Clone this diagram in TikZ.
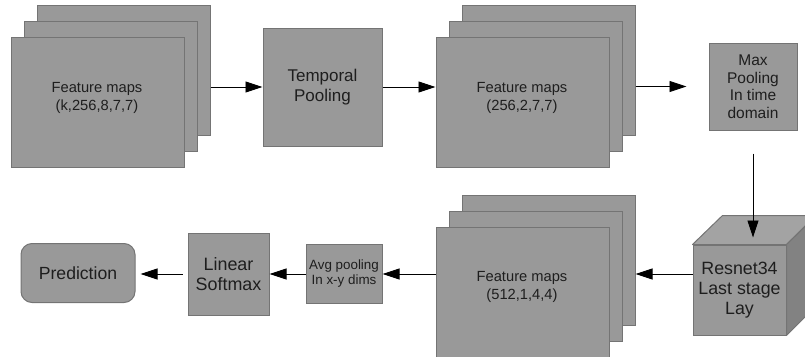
\documentclass[tikz,border=0pt]{standalone}
\usepackage{fontspec}
\setmainfont{Liberation Sans}
\usetikzlibrary{arrows.meta}
\definecolor{boxfill}{HTML}{999999}
\definecolor{boxedge}{HTML}{747474}
\definecolor{cubetop}{HTML}{A3A3A3}
\definecolor{cubeside}{HTML}{828282}
\definecolor{ink}{HTML}{1E1E1E}
\tikzset{
  block/.style={draw=boxedge, fill=boxfill, line width=1pt, inner sep=0pt,
    align=center, text=ink},
  layer/.style={block, minimum width=173pt, minimum height=130pt},
  flow/.style={line width=0.9pt, -{Triangle[length=17pt,width=11pt]}},
  fmfont/.style={font=\fontsize{14.7}{18}\selectfont},
  bigfont/.style={font=\fontsize{17.6}{20}\selectfont},
}
\begin{document}
\begin{tikzpicture}[x=1pt,y=-1pt]
\useasboundingbox (0,0) rectangle (805,356);

% first stack of feature maps
\node[layer] (s1b) at (123.5,70.5) {};
\node[layer] (s1m) at (110.5,86.5) {};
\node[layer] (s1f) at (97.5,102.5) {};
\node[fmfont, text=ink, align=center] (s1t) at (97,98) {Feature maps\\(k,256,8,7,7)};

% temporal pooling
\node[block, minimum width=119pt, minimum height=118pt,
  font=\fontsize{17}{20}\selectfont] (tp) at (322.5,87) {Temporal\\Pooling};

% second stack of feature maps
\node[layer] (s2b) at (548.5,70.5) {};
\node[layer] (s2m) at (535.5,86.5) {};
\node[layer] (s2f) at (522.5,102.5) {};
\node[fmfont, text=ink, align=center] (s2t) at (522,98) {Feature maps\\(256,2,7,7)};

% max pooling in time
\node[block, minimum width=88pt, minimum height=87pt,
  font=\fontsize{15.5}{17.5}\selectfont] (mp) at (753,86.5) {Max\\Pooling\\In time\\domain};

% ResNet34 cube
\node[block, minimum width=93pt, minimum height=90pt] (cube) at (739.5,290) {};
\filldraw[draw=boxedge, fill=cubetop, line width=1pt, line join=round]
  (cube.north west) -- ++(30,-29) -- ++(93,0) -- (cube.north east) -- cycle;
\filldraw[draw=boxedge, fill=cubeside, line width=1pt, line join=round]
  (cube.north east) -- ++(30,-29) -- ++(0,90) -- (cube.south east) -- cycle;
\node[text=ink, align=center, font=\fontsize{17.8}{20}\selectfont]
  (cubet) at (cube.center) {Resnet34\\Last stage\\Lay};

% third stack of feature maps
\node[layer] (s3b) at (548.5,260) {};
\node[layer] (s3m) at (535.5,276) {};
\node[layer] (s3f) at (522.5,292) {};
\node[fmfont, text=ink, align=center] (s3t) at (522,287) {Feature maps\\(512,1,4,4)};

% average pooling, classifier and output
\node[block, minimum width=76pt, minimum height=59pt,
  font=\fontsize{13.4}{15}\selectfont] (avg) at (344,274) {Avg pooling\\In x-y dims};
\node[block, minimum width=81pt, minimum height=82pt,
  font=\fontsize{17.9}{20}\selectfont] (lin) at (228.5,274) {Linear\\Softmax};
\node[block, bigfont, rounded corners=11pt, minimum width=114pt,
  minimum height=59pt] (pred) at (78,273) {Prediction};

% connectors
\draw[flow] (s1b.east |- tp.west) -- (tp.west);
\draw[flow] (tp.east) -- (tp.east -| s2f.west);
\draw[flow, shorten >=22pt] (s2b.east |- mp.west) -- (mp.west);
\draw[flow, shorten <=23pt, shorten >=7pt] (mp.south) -- (mp.south |- cube.north);
\draw[flow] (cube.west |- avg.east) -- (avg.east -| s3b.east);
\draw[flow] (s3f.west |- avg.east) -- (avg.east);
\draw[flow] (avg.west) -- (lin.east);
\draw[flow, shorten <=5pt, shorten >=5pt] (lin.west) -- (lin.west -| pred.east);
\end{tikzpicture}
\end{document}
